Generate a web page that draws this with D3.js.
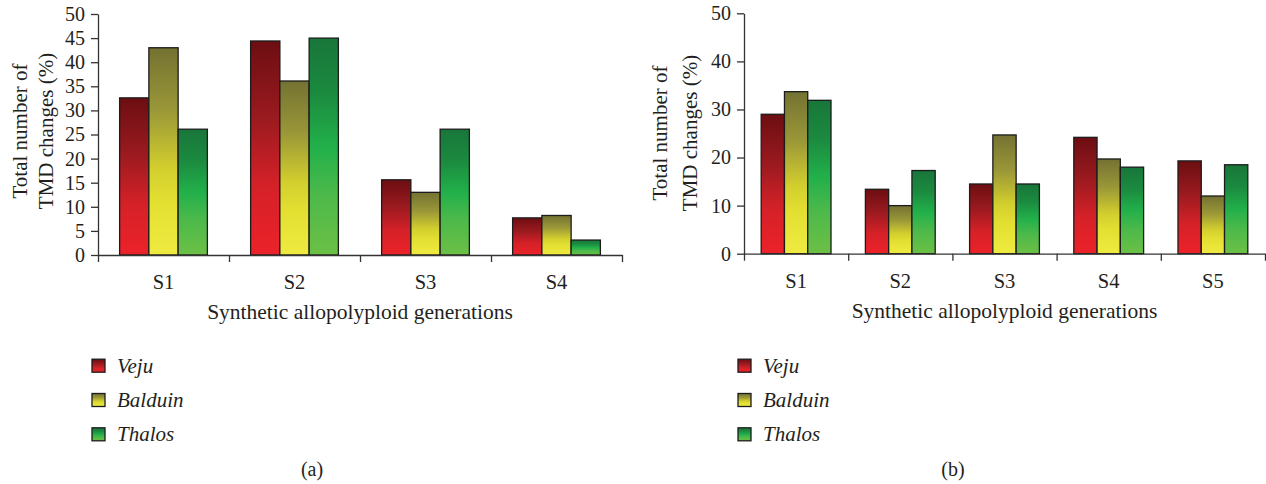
<!DOCTYPE html>
<html>
<head>
<meta charset="utf-8">
<script src="https://cdn.jsdelivr.net/npm/d3@7"></script>
<style>
  body { margin: 0; background: #fff; }
  svg { display: block; font-family: "Liberation Serif", "Times New Roman", serif; }
</style>
</head>
<body>
<svg id="chart" width="1266" height="484"></svg>
<script>
const series = ['Veju', 'Balduin', 'Thalos'];

// panel (a)
const generationsA = ['S1', 'S2', 'S3', 'S4'];
const vejuA = [32.6, 44.4, 15.6, 7.7];
const balduinA = [43.0, 36.1, 13.0, 8.2];
const thalosA = [26.1, 45.0, 26.1, 3.1];
const yTicksA = [0, 5, 10, 15, 20, 25, 30, 35, 40, 45, 50];

// panel (b)
const generationsB = ['S1', 'S2', 'S3', 'S4', 'S5'];
const vejuB = [29.0, 13.4, 14.5, 24.2, 19.3];
const balduinB = [33.7, 10.0, 24.7, 19.7, 12.0];
const thalosB = [31.9, 17.3, 14.5, 18.0, 18.5];
const yTicksB = [0, 10, 20, 30, 40, 50];

const svg = d3.select('#chart');
const ink = '#231f20';
const serif = '"Liberation Serif", "Times New Roman", serif';

// vertical gradients, dark at the top
const gradStops = {
  Veju: [[0, '#6c0e12'], [0.35, '#991a1f'], [0.68, '#d52128'], [1, '#ec2229']],
  Balduin: [[0, '#747232'], [0.3, '#9a9738'], [0.58, '#d2ce2e'], [0.75, '#e4e032'], [1, '#eeea40']],
  Thalos: [[0, '#18763a'], [0.25, '#1b8a3f'], [0.5, '#22b04a'], [0.72, '#4cb94a'], [1, '#6cc045']]
};
const defs = svg.append('defs');
series.forEach(s => {
  const lg = defs.append('linearGradient').attr('id', 'grad-' + s)
    .attr('x1', 0).attr('y1', 0).attr('x2', 0).attr('y2', 1);
  gradStops[s].forEach(st => lg.append('stop').attr('offset', st[0]).attr('stop-color', st[1]));
});

function drawPanel(cfg) {
  const g = svg.append('g');
  const n = cfg.cats.length;

  const x0 = d3.scaleBand().domain(cfg.cats).range([cfg.left, cfg.right]);
  const bw = x0.bandwidth();
  const x1 = d3.scaleBand().domain(series).range([bw * 0.165, bw * 0.835]);
  const y = d3.scaleLinear().domain([0, 50]).range([cfg.bottom, cfg.top]);

  const rows = cfg.cats.map((c, i) => ({
    cat: c,
    vals: series.map((s, k) => ({ key: s, value: cfg.data[k][i] }))
  }));

  // bars
  g.selectAll('.grp')
    .data(rows)
    .enter().append('g')
    .attr('class', 'grp')
    .attr('transform', d => 'translate(' + x0(d.cat) + ',0)')
    .selectAll('rect')
    .data(d => d.vals)
    .enter().append('rect')
    .attr('x', d => x1(d.key))
    .attr('width', x1.bandwidth())
    .attr('y', d => y(d.value))
    .attr('height', d => y(0) - y(d.value))
    .attr('fill', d => 'url(#grad-' + d.key + ')')
    .attr('stroke', '#1c1c1c')
    .attr('stroke-width', 1.3);

  // y axis
  const yAxis = g.append('g')
    .attr('transform', 'translate(' + cfg.left + ',0)')
    .call(d3.axisLeft(y).tickValues(cfg.yTicks).tickSize(7).tickSizeOuter(0).tickPadding(6))
    .attr('font-family', serif)
    .attr('font-size', 20);
  yAxis.selectAll('text').attr('fill', ink);
  yAxis.selectAll('line').attr('stroke', '#333').attr('stroke-width', 1.3);
  yAxis.select('.domain').attr('stroke', '#333').attr('stroke-width', 1.3);

  // x axis with ticks on group boundaries
  const xb = d3.scaleLinear().domain([0, n]).range([cfg.left, cfg.right]);
  const xAxis = g.append('g')
    .attr('transform', 'translate(0,' + cfg.bottom + ')')
    .call(d3.axisBottom(xb).tickValues(d3.range(n + 1)).tickSize(7).tickSizeOuter(0).tickFormat(''));
  xAxis.selectAll('line').attr('stroke', '#333').attr('stroke-width', 1.3);
  xAxis.select('.domain').attr('stroke', '#333').attr('stroke-width', 1.3);

  g.selectAll('.cat-label')
    .data(cfg.cats)
    .enter().append('text')
    .attr('class', 'cat-label')
    .attr('x', d => x0(d) + bw / 2)
    .attr('y', cfg.bottom + 34)
    .attr('text-anchor', 'middle')
    .attr('fill', ink)
    .style('font-size', '20.5px')
    .text(d => d);

  g.append('text')
    .attr('x', (cfg.left + cfg.right) / 2)
    .attr('y', cfg.bottom + 64)
    .attr('text-anchor', 'middle')
    .attr('fill', ink)
    .style('font-size', '21.5px')
    .text('Synthetic allopolyploid generations');

  // y title, two lines
  [['Total number of', cfg.titleX[0]], ['TMD changes (%)', cfg.titleX[1]]].forEach(t => {
    g.append('text')
      .attr('transform', 'translate(' + t[1] + ',' + cfg.titleY + ') rotate(-90)')
      .attr('text-anchor', 'middle')
      .attr('fill', ink)
      .style('font-size', '21px')
      .text(t[0]);
  });

  // legend
  const leg = g.selectAll('.leg')
    .data(series)
    .enter().append('g')
    .attr('class', 'leg')
    .attr('transform', (d, i) => 'translate(' + cfg.legX + ',' + (365.7 + i * 34.3) + ')');
  leg.append('rect')
    .attr('x', 0).attr('y', -6.5)
    .attr('width', 13).attr('height', 13)
    .attr('fill', d => 'url(#grad-' + d + ')')
    .attr('stroke', '#1c1c1c')
    .attr('stroke-width', 1.3);
  leg.append('text')
    .attr('x', 25).attr('y', 7)
    .attr('fill', ink)
    .style('font-size', '21px')
    .style('font-style', 'italic')
    .text(d => d);

  g.append('text')
    .attr('x', cfg.captionX)
    .attr('y', 476)
    .attr('text-anchor', 'middle')
    .attr('fill', ink)
    .style('font-size', '20px')
    .text(cfg.caption);
}

drawPanel({
  cats: generationsA, data: [vejuA, balduinA, thalosA], yTicks: yTicksA,
  left: 98, right: 622, top: 14, bottom: 255,
  titleX: [27, 53], titleY: 131,
  legX: 92, captionX: 312, caption: '(a)'
});

drawPanel({
  cats: generationsB, data: [vejuB, balduinB, thalosB], yTicks: yTicksB,
  left: 744, right: 1265, top: 13.3, bottom: 253.7,
  titleX: [667, 697], titleY: 133,
  legX: 738, captionX: 953, caption: '(b)'
});
</script>
</body>
</html>
